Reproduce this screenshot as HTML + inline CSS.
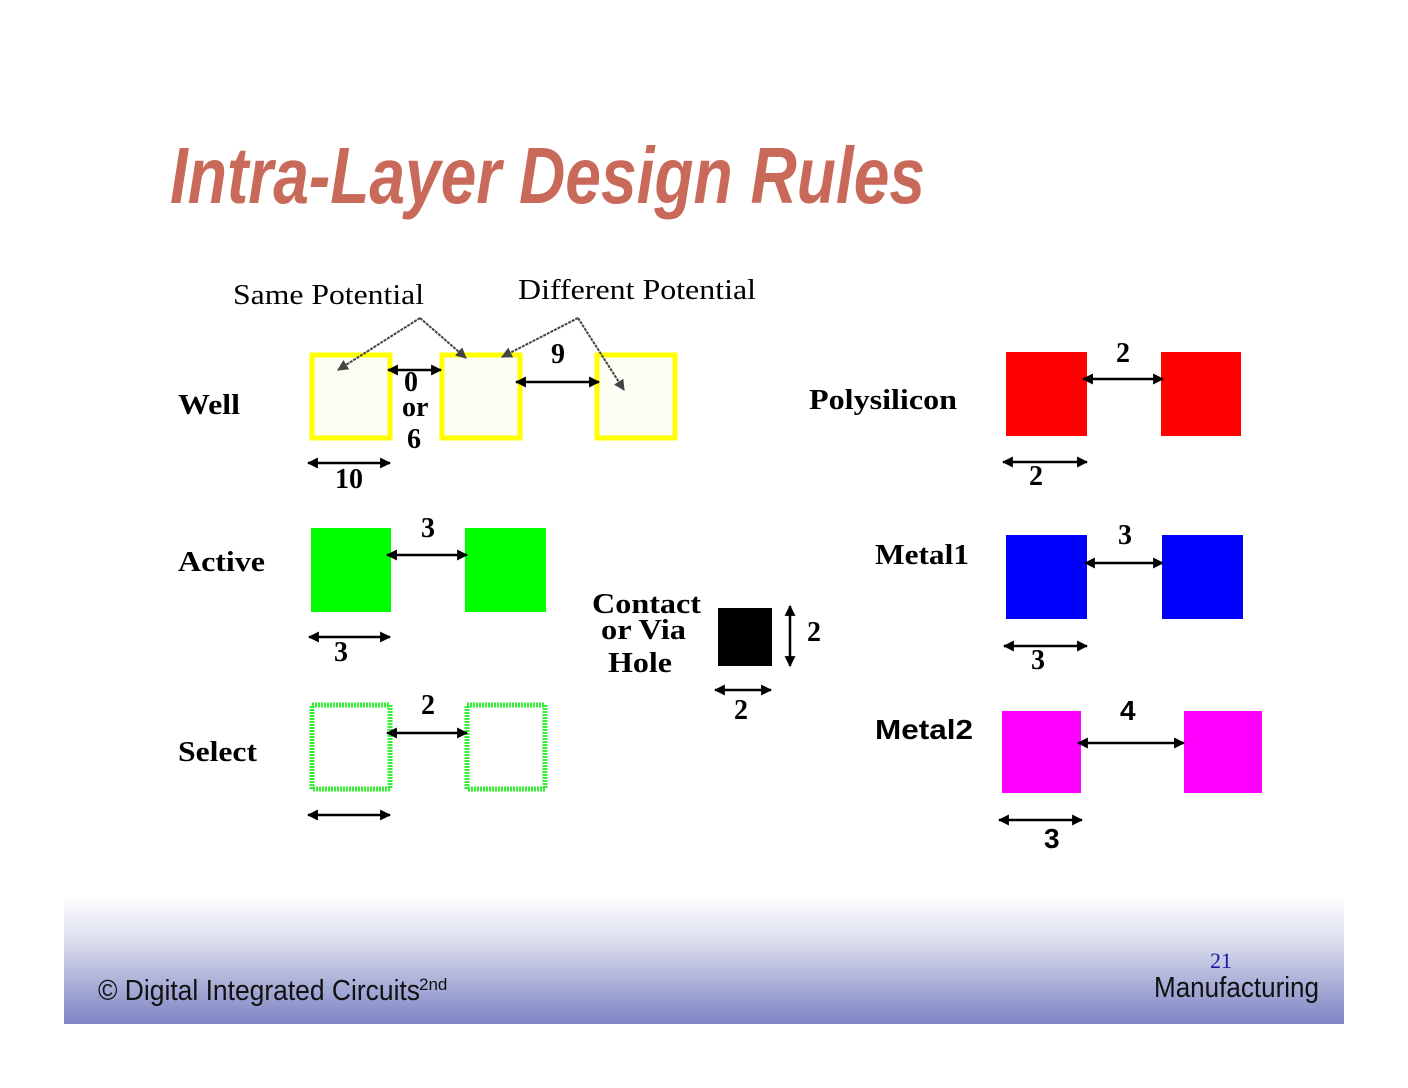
<!DOCTYPE html>
<html><head><meta charset="utf-8"><style>
html,body{margin:0;padding:0;background:#fff;}
svg{display:block;}
.lb{font-family:"Liberation Serif",serif;font-weight:bold;font-size:28px;fill:#000;}
.ls{font-family:"Liberation Sans",sans-serif;font-weight:bold;font-size:28px;fill:#000;}
.ts{font-family:"Liberation Serif",serif;font-size:29px;fill:#000;}
</style></head><body>
<svg width="1408" height="1088" viewBox="0 0 1408 1088" xmlns="http://www.w3.org/2000/svg">
<defs>
<linearGradient id="g" x1="0" y1="0" x2="0" y2="1">
<stop offset="0" stop-color="#ffffff"/>
<stop offset="0.35" stop-color="#dcdeee"/>
<stop offset="1" stop-color="#7d84c3"/>
</linearGradient>
<marker id="a" viewBox="0 0 10 10" refX="9" refY="5" markerWidth="11" markerHeight="11" markerUnits="userSpaceOnUse" orient="auto-start-reverse"><path d="M0,0 L10,5 L0,10 z" fill="#000"/></marker>
<marker id="d" viewBox="0 0 10 10" refX="9" refY="5" markerWidth="11" markerHeight="11" markerUnits="userSpaceOnUse" orient="auto"><path d="M0,0 L10,5 L0,10 z" fill="#444"/></marker>
</defs>
<rect x="64" y="895" width="1280" height="129" fill="url(#g)"/>
<text x="170" y="203" font-family="Liberation Sans,sans-serif" font-weight="bold" font-style="italic" font-size="80" fill="#c8695a" textLength="755" lengthAdjust="spacingAndGlyphs">Intra-Layer Design Rules</text>

<text class="ts" x="233" y="304" textLength="191" lengthAdjust="spacingAndGlyphs">Same Potential</text>
<text class="ts" x="518" y="299" textLength="238" lengthAdjust="spacingAndGlyphs">Different Potential</text>

<!-- Well -->
<text class="lb" x="178" y="414" textLength="62" lengthAdjust="spacingAndGlyphs">Well</text>
<g fill="#fdfdf4" stroke="#ffff00" stroke-width="5">
<rect x="312" y="355" width="78" height="83"/>
<rect x="442" y="355" width="78" height="83"/>
<rect x="597" y="355" width="78" height="83"/>
</g>
<g stroke="#444" stroke-width="2" stroke-dasharray="3,1" fill="none">
<polyline points="420,318 338,370" marker-end="url(#d)"/>
<polyline points="420,318 466,358" marker-end="url(#d)"/>
<polyline points="578,318 502,357" marker-end="url(#d)"/>
<polyline points="578,318 624,390" marker-end="url(#d)"/>
</g>
<text class="lb" x="404" y="391">0</text>
<text class="lb" x="402" y="416">or</text>
<text class="lb" x="407" y="448">6</text>
<text class="lb" x="551" y="363">9</text>
<text class="lb" x="335" y="488">10</text>

<!-- Active -->
<text class="lb" x="178" y="571" textLength="87" lengthAdjust="spacingAndGlyphs">Active</text>
<rect x="311" y="528" width="80" height="84" fill="#00ff00"/>
<rect x="465" y="528" width="81" height="84" fill="#00ff00"/>
<text class="lb" x="421" y="537">3</text>
<text class="lb" x="334" y="661">3</text>

<!-- Select -->
<text class="lb" x="178" y="761" textLength="79" lengthAdjust="spacingAndGlyphs">Select</text>
<g fill="none" stroke="#33ee33" stroke-width="5" stroke-dasharray="2,1">
<rect x="312" y="705" width="78" height="84"/>
<rect x="467" y="705" width="78" height="84"/>
</g>
<text class="lb" x="421" y="714">2</text>

<!-- Contact -->
<text class="lb" x="592" y="613" textLength="109" lengthAdjust="spacingAndGlyphs">Contact</text>
<text class="lb" x="601" y="639" textLength="85" lengthAdjust="spacingAndGlyphs">or Via</text>
<text class="lb" x="608" y="672" textLength="64" lengthAdjust="spacingAndGlyphs">Hole</text>
<rect x="718" y="608" width="54" height="58" fill="#000"/>
<text class="lb" x="807" y="641">2</text>
<text class="lb" x="734" y="719">2</text>

<!-- Poly -->
<text class="lb" x="809" y="409" textLength="148" lengthAdjust="spacingAndGlyphs">Polysilicon</text>
<rect x="1006" y="352" width="81" height="84" fill="#ff0000"/>
<rect x="1161" y="352" width="80" height="84" fill="#ff0000"/>
<text class="lb" x="1116" y="362">2</text>
<text class="lb" x="1029" y="485">2</text>

<!-- Metal1 -->
<text class="lb" x="875" y="564" textLength="94" lengthAdjust="spacingAndGlyphs">Metal1</text>
<rect x="1006" y="535" width="81" height="84" fill="#0000ff"/>
<rect x="1162" y="535" width="81" height="84" fill="#0000ff"/>
<text class="lb" x="1118" y="544">3</text>
<text class="lb" x="1031" y="669">3</text>

<!-- Metal2 -->
<text class="ls" x="875" y="739" textLength="98" lengthAdjust="spacingAndGlyphs">Metal2</text>
<rect x="1002" y="711" width="79" height="82" fill="#ff00ff"/>
<rect x="1184" y="711" width="78" height="82" fill="#ff00ff"/>
<text class="ls" x="1120" y="720">4</text>
<text class="ls" x="1044" y="848">3</text>

<g stroke="#000" stroke-width="2.5" marker-start="url(#a)" marker-end="url(#a)">
<line x1="388" y1="370" x2="441" y2="370"/>
<line x1="516" y1="382" x2="599" y2="382"/>
<line x1="308" y1="463" x2="390" y2="463"/>
<line x1="387" y1="555" x2="467" y2="555"/>
<line x1="309" y1="637" x2="390" y2="637"/>
<line x1="387" y1="733" x2="467" y2="733"/>
<line x1="308" y1="815" x2="390" y2="815"/>
<line x1="1083" y1="379" x2="1163" y2="379"/>
<line x1="1003" y1="462" x2="1087" y2="462"/>
<line x1="1085" y1="563" x2="1163" y2="563"/>
<line x1="1004" y1="646" x2="1087" y2="646"/>
<line x1="1078" y1="743" x2="1184" y2="743"/>
<line x1="999" y1="820" x2="1082" y2="820"/>
<line x1="790" y1="606" x2="790" y2="666"/>
<line x1="715" y1="690" x2="771" y2="690"/>
</g>

<text x="98" y="1000" font-family="Liberation Sans,sans-serif" font-size="29" fill="#111" textLength="322" lengthAdjust="spacingAndGlyphs">© Digital Integrated Circuits</text>
<text x="419" y="990" font-family="Liberation Sans,sans-serif" font-size="17" fill="#111">2nd</text>
<text x="1210" y="968" font-family="Liberation Serif,serif" font-size="22" fill="#1a1aa0">21</text>
<text x="1154" y="997" font-family="Liberation Sans,sans-serif" font-size="29" fill="#111" textLength="165" lengthAdjust="spacingAndGlyphs">Manufacturing</text>
</svg>
</body></html>
